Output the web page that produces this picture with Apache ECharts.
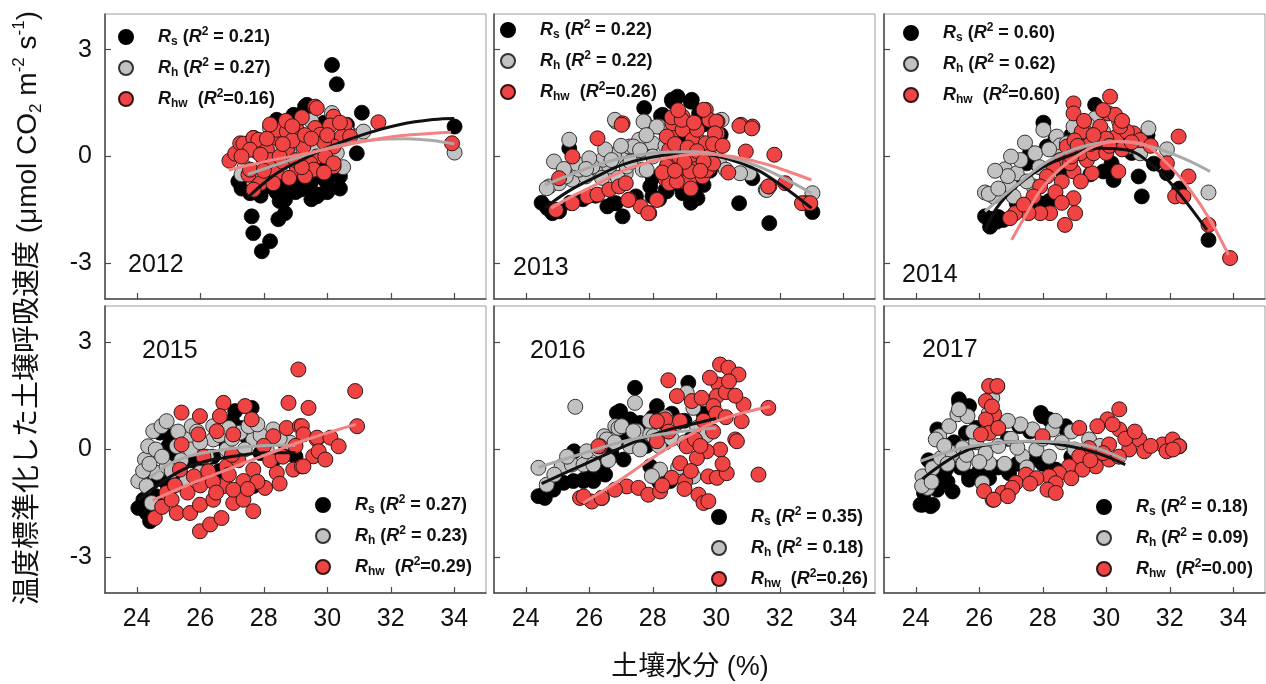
<!DOCTYPE html>
<html>
<head>
<meta charset="utf-8">
<title>土壌呼吸速度と土壌水分</title>
<script src="https://cdn.jsdelivr.net/npm/echarts@6/dist/echarts.min.js"></script>
<style>
  html, body { margin: 0; padding: 0; background: #fff; }
  #chart { width: 1266px; height: 684px; }
</style>
</head>
<body>
<div id="chart"></div>
<script>
// ---- labels and ticks ----
const years = ['2012', '2013', '2014', '2015', '2016', '2017'];
const xTicks = [24, 26, 28, 30, 32, 34];
const yTicks = [-3, 0, 3];
const r2Rs  = ['0.21', '0.22', '0.60', '0.27', '0.35', '0.18'];
const r2Rh  = ['0.27', '0.22', '0.62', '0.23', '0.18', '0.09'];
const r2Rhw = ['0.16', '0.26', '0.60', '0.29', '0.26', '0.00'];

// ---- 2012: [soil moisture %, standardized flux] ----
const rs2012 = [[30.15,2.57],[30.3,2.03],[29.36,1.45],[29.3,1.4],[31.09,1.23],[28.41,1.03],[28.94,1.17],[30.62,0.89],[30.67,0.66],[30.93,0.09],[34.01,0.84],
  [27.68,0.52],[27.5,0.2],[28.0,0.4],[28.6,0.7],[29.0,0.9],[29.6,0.6],[30.2,0.3],[29.9,0.95],
  [27.2,-0.7],[27.3,-0.9],[27.57,-1.03],[27.57,-0.84],[27.8,-0.8],[28.1,-0.84],[28.3,-0.5],[28.52,-0.75],[28.62,-1.12],[28.67,-1.21],[28.8,-0.95],[28.9,-0.6],[29.0,-1.0],[29.15,-0.93],[29.36,-0.56],[29.41,-0.89],[29.67,-1.12],[29.72,-1.07],[29.8,-0.3],[29.94,-0.65],[29.99,-0.75],[30.1,-0.1],[30.4,-0.56],[30.4,-0.9],[28.4,-1.0],[29.5,-0.7],[30.2,-0.5],[29.57,-1.03],[29.88,-0.09],
  [27.4,-0.55],[27.9,-1.1],[28.2,-0.65],[28.7,-0.85],[29.2,-0.7],[29.5,-1.2],[30.0,-1.0],[30.3,-0.3],[28.5,-1.25],
  [28.67,-1.59],[28.46,-1.76],[27.62,-1.68],[27.67,-2.15],[28.2,-2.38],[27.94,-2.66]];
const rh2012 = [[27.68,-0.7],[27.78,0.14],[27.4,-0.3],[27.6,0.35],[28.0,-0.2],[28.3,0.3],[28.5,-0.4],[28.8,0.1],[29.1,0.5],[29.3,-0.2],[29.6,0.3],[29.9,0.7],[30.15,1.22],[30.62,0.70],[31.04,0.61],[31.14,0.70],[34.01,0.11],[30.3,0.1],[30.5,-0.3],[27.3,-0.5],[28.2,0.8],[29.5,1.0],[27.9,-0.55]];
const rhw2012 = [[26.92,-0.12],[27.1,0.08],[27.26,0.37],[27.36,0.36],[27.67,0.52],[27.83,0.28],[27.83,0.47],[27.52,-0.51],[27.57,0.19],[27.57,-0.37],[27.89,-0.75],[27.68,-0.93],[28.46,0.56],[28.41,0.52],[28.41,0.75],[28.73,0.70],[29.04,0.75],[29.62,1.40],[29.67,1.36],[29.62,0.8],[30.2,1.12],[30.56,0.89],[29.25,0.28],[28.73,0.19],[28.1,0.19],[29.67,0.0],[30.2,-0.28],[28.41,-0.47],[29.04,-0.37],[29.46,-0.19],[30.09,0.87],[29.78,0.61],[30.46,0.56],[30.72,0.56],[30.2,0.28],[29.94,0.0],[30.2,-0.19],[29.57,-0.37],[31.61,0.96],[33.93,0.37],
  [28.2,-0.1],[28.6,-0.15],[28.9,0.45],[29.3,0.6],[28.1,0.5],[28.7,1.0],[29.2,1.1],[29.9,0.4],[28.3,-0.75],[28.8,-0.6],[29.3,-0.55],[29.9,-0.45],[28.0,-0.4],[27.3,0.0],[28.5,0.0],[29.0,-0.1],
  [28.2,0.9],[28.9,0.85],[29.5,0.5],[30.0,0.6],[30.4,0.95],[28.6,0.35],[27.9,0.05],[29.2,-0.3]];
const fitRs2012  = [[27.5,-1.15],[28.0,-0.75],[28.5,-0.42],[29.15,-0.12],[30,0.25],[31.25,0.65],[32.3,0.9],[33.35,1.04],[34,1.07]];
const fitRh2012  = [[27.5,-0.5],[28.5,-0.2],[29.5,0.1],[30.5,0.33],[31.5,0.47],[32.5,0.5],[33.3,0.45],[34,0.35]];
const fitRhw2012 = [[26.9,-0.38],[28,-0.15],[29.15,0.05],[30.2,0.25],[31.25,0.44],[32.3,0.58],[33.9,0.68]];

// ---- 2013 ----
const rs2013 = [[28.78,1.68],[28.62,1.54],[27.73,1.36],[29.2,1.54],[28.31,1.17],[29.46,1.22],[28.6,1.59],[29.23,1.59],[28.26,1.14],[30.14,0.61],[25.37,0.23],
  [31.14,-0.61],[30.72,-1.31],[31.67,-1.87],[29.41,-1.17],[28.94,-1.03],[28.41,-0.93],[27.99,-1.12],[27.47,-1.12],[27.05,-1.68],[26.57,-1.4],[26.84,-1.31],[26.76,-1.31],[24.68,-1.45],[24.84,-1.59],[25.05,-1.54],[28.73,-0.75],[29.3,-0.93],[33.03,-1.56],[27.92,-0.84],[28.44,-0.98],[28.97,-0.98],[29.07,-0.75],
  [25.4,-1.3],[25.8,-1.2],[26.2,-1.1],[28.0,-0.6],[28.6,-0.5],[29.6,-0.8],[29.8,-0.4],[28.2,-1.2],[29.2,-1.3],[24.5,-1.3],[28.9,0.5],[29.6,0.9],[29.9,0.2]];
const rh2013 = [[25.37,0.47],[24.89,-0.14],[26.84,0.98],[27.73,0.98],[28.2,0.84],[24.74,-0.84],[25.05,-0.75],[25.47,-0.65],[25.89,-0.56],[26.31,-0.37],[26.63,-0.28],[27.05,-0.09],[27.47,0.09],[27.89,0.19],[27.26,0.28],[27.57,0.47],[27.99,0.37],[26.78,0.05],[26.42,-0.09],[25.68,-0.37],[25.26,-0.56],[26.1,-0.28],[27.68,-0.37],[27.15,-0.47],[30.09,-0.19],[30.3,-0.37],[31.04,-0.47],[31.56,-0.93],[33.03,-1.03],[26.81,1.03],[27.71,0.98],[28.13,0.84],[27.39,0.28],[27.6,0.18],[27.18,-0.28],[27.81,-0.38],[30.17,1.03],[30.12,0.28],[30.75,-0.47],[31.59,-0.94],[24.66,-0.89],
  [25.6,-0.2],[26.0,-0.05],[26.5,0.2],[27.0,0.3],[28.0,0.0],[28.4,0.3],[28.8,0.2],[29.2,-0.1],[29.5,0.4],[28.6,-0.4],[26.9,-0.6],[26.4,-0.6],
  [25.9,-0.35],[26.7,-0.1],[27.3,-0.15],[27.8,0.6],[25.2,-0.35]];
const rhw2013 = [[27.05,0.93],[26.26,0.51],[25.47,0.0],[25.05,-0.61],[24.95,-1.5],[25.47,-1.31],[25.94,-1.12],[26.26,-1.07],[26.63,-0.93],[26.94,-0.84],[27.15,-0.75],[27.26,-1.21],[27.89,-1.59],[27.62,-1.4],[28.41,-0.65],[28.46,-0.23],[28.52,0.19],[28.57,0.56],[28.62,0.93],[28.94,1.12],[28.94,0.75],[29.25,0.47],[29.67,0.37],[29.67,1.31],[29.78,1.03],[30.04,0.98],[30.04,0.65],[29.46,-0.23],[29.78,-0.33],[29.04,-0.37],[28.83,-0.7],[28.52,-0.75],[29.15,-0.65],[29.57,-0.56],[30.78,0.89],[31.14,0.84],[30.93,0.14],[31.83,0.05],[31.67,-0.84],[32.82,-1.31],[28.83,0.0],[29.25,0.05],[29.78,0.0],[27.02,0.89],[28.6,1.1],[28.91,1.03],[29.6,1.31],[30.0,0.98],[29.96,0.65],[30.73,0.86],[31.12,0.79],[28.44,0.56],[28.44,-0.28],[28.76,-0.7],[29.18,-0.42],[29.7,-0.38],[30.38,-0.45],[31.64,-0.84],[32.17,-0.75],[32.7,-1.31],[32.96,-1.31],[27.86,-1.59],[27.23,-1.22],[28.13,-1.22],
  [28.7,0.35],[29.1,0.25],[29.4,0.75],[29.0,-0.15],[29.4,0.15],[28.3,-0.45],[29.9,-0.2],[29.2,-0.9],[29.6,-0.15],[29.9,0.35],
  [28.8,1.3],[29.3,0.95],[28.7,-0.4],[29.5,-0.4],[30.2,0.3]];
const fitRs2013  = [[24.6,-1.45],[25.3,-1.0],[26.1,-0.62],[27.15,-0.2],[28.4,0.04],[29.3,0.1],[30.3,-0.05],[31.3,-0.38],[32.0,-0.78],[32.5,-1.1],[33,-1.45]];
const fitRh2013  = [[24.6,-0.8],[25.3,-0.55],[26.1,-0.28],[27.15,-0.02],[28.4,0.12],[29.3,0.13],[30.3,0.0],[31.1,-0.2],[32,-0.55],[33,-1.03]];
const fitRhw2013 = [[24.8,-1.45],[25.5,-1.1],[26.1,-0.84],[27.15,-0.37],[28.4,-0.05],[29.5,0.07],[30.5,0.0],[31.5,-0.2],[32.2,-0.4],[33.0,-0.66]];

// ---- 2014 ----
const rs2014 = [[26.18,-1.68],[26.34,-1.97],[26.55,-1.83],[26.76,-1.78],[26.4,-1.75],[26.6,-1.7],[28.02,0.95],[28.13,0.28],[27.5,-0.19],[29.65,1.45],[29.91,-0.42],[30.23,-0.66],[30.17,-0.19],[31.02,-0.56],[31.12,-1.12],[31.91,-0.47],[33.22,-2.34],[27.92,-1.31],[27.18,-1.31],[27.6,-1.31],[28.2,-1.25],
  [27.2,-0.6],[27.6,0.1],[28.4,0.5],[28.9,0.6],[29.3,0.4],[29.9,0.5],[30.4,0.3],[30.8,0.1],[26.9,-0.9],[31.5,-0.2],[32.3,-0.9],[28.6,-0.4],[29.5,-0.5],[30.6,0.6],[31.3,0.6]];
const rh2014 = [[26.18,-1.01],[26.45,-1.12],[26.81,-0.36],[26.97,-0.8],[27.44,0.39],[27.76,0.09],[28.02,0.75],[28.44,0.56],[28.55,0.31],[28.97,0.84],[29.65,1.07],[31.33,0.79],[31.91,0.2],[33.22,-1.01],[27.18,-0.47],[27.08,-1.12],[27.71,-0.84],[28.55,0.0],[28.76,0.37],[30.75,0.28],[31.07,0.09],
  [26.3,-1.05],[26.6,-0.9],[26.9,-0.55],[27.3,-0.1],[27.5,-0.7],[27.9,-0.3],[28.2,0.2],[29.2,0.6],[29.4,0.9],[29.9,0.7],[30.2,0.5],[30.4,1.0],[29.0,0.2],[26.5,-0.4],[27.0,0.0]];
const rhw2014 = [[28.97,1.49],[28.97,1.21],[30.12,1.68],[30.07,1.21],[30.28,1.17],[29.81,0.84],[29.39,0.65],[29.23,0.7],[28.76,0.28],[28.55,-0.1],[28.34,-0.28],[28.13,-0.56],[27.92,-0.84],[27.71,-1.12],[28.97,-1.17],[29.02,-1.59],[28.7,-1.92],[28.23,-1.59],[27.92,-1.59],[27.55,-1.59],[27.13,-1.59],[26.97,-1.73],[28.97,-0.42],[29.55,-0.47],[30.38,-0.42],[30.86,0.65],[31.07,0.46],[32.28,0.56],[31.91,-0.19],[32.59,-0.56],[32.17,-1.12],[32.43,-1.12],[33.22,-1.92],[33.9,-2.85],[29.39,-0.1],[29.81,0.28],[30.33,0.56],[30.65,0.7],[29.18,0.09],[29.6,0.09],[30.44,0.84],[29.7,0.46],[28.86,-0.19],
  [29.0,0.45],[29.5,0.35],[30.0,0.1],[30.0,0.5],[29.3,1.0],[30.5,0.2],[28.6,-0.7],[28.4,-1.0],[29.2,-0.7],[27.4,-1.35],[28.6,-1.3],[31.4,0.3],[29.9,1.3],[30.5,1.0],
  [29.1,0.3],[29.6,0.6],[30.1,0.3],[28.9,0.0],[30.8,0.4]];
const fitRs2014  = [[26.18,-2.1],[26.66,-1.31],[27.71,-0.47],[28.76,0.0],[29.81,0.23],[30.65,0.18],[31.38,-0.19],[32.12,-0.84],[33.17,-2.06]];
const fitRh2014  = [[26.18,-1.54],[27.18,-0.8],[28.23,-0.1],[29.28,0.28],[30.33,0.42],[31.38,0.28],[32.43,-0.05],[33.27,-0.42]];
const fitRhw2014 = [[27.02,-2.34],[27.5,-1.59],[28.02,-0.84],[28.76,-0.19],[29.6,0.28],[30.33,0.42],[31.07,0.37],[31.91,-0.19],[32.64,-0.94],[33.27,-1.78],[33.85,-2.76]];

// ---- 2015 ----
const rs2015 = [[24.05,-1.63],[24.31,-1.77],[24.42,-2.0],[24.21,-1.4],[24.73,0.47],[25.05,0.37],[25.2,-0.19],[27.1,1.07],[27.62,1.16],[27.67,-1.02],
  [24.3,-1.5],[24.6,-1.3],[24.9,-0.9],[25.3,-0.6],[25.7,-0.3],[26.0,-0.5],[26.4,-0.2],[26.8,0.2],[27.0,0.8],[27.3,0.6],[27.5,0.3],[27.9,-0.1],[28.3,-0.3],[28.7,0.1],[29.0,-0.2],[24.5,-0.9],[25.5,-0.8],[26.6,-0.6],[25.0,0.1]];
const rh2015 = [[24.05,-0.88],[24.31,-1.02],[24.26,-0.28],[24.36,0.09],[24.52,0.51],[24.78,0.65],[24.94,0.79],[24.63,-0.65],[24.94,-0.47],[25.26,0.09],[25.57,0.28],[25.73,0.65],[26.41,0.28],[26.83,0.0],[27.25,0.47],[27.67,0.28],[28.3,0.56],[25.57,-0.84],[25.99,-0.65],[27.52,0.65],[26.41,0.65],[24.47,-1.49],[28.83,0.19],[28.09,0.0],
  [24.2,-0.6],[24.4,-0.4],[24.6,0.0],[24.8,-0.2],[25.1,-0.6],[25.4,-0.3],[25.7,0.0],[26.0,0.2],[26.2,-0.2],[26.6,0.4],[27.0,0.3],[27.4,0.0],[27.9,0.4],[28.5,0.3],[25.9,0.5],[25.3,0.5],[26.9,0.6],[27.8,0.7]];
const rhw2015 = [[29.09,2.23],[28.78,1.3],[29.41,1.16],[26.73,1.3],[27.41,1.21],[27.62,0.84],[25.41,1.03],[25.99,0.93],[26.62,0.93],[26.52,0.51],[25.94,0.42],[25.41,0.14],[27.04,0.42],[28.3,0.37],[28.72,0.6],[29.14,0.65],[24.57,-1.91],[25.26,-1.77],[25.68,-1.77],[25.99,-1.54],[26.41,-1.4],[27.04,-1.49],[27.36,-1.4],[27.67,-1.72],[25.99,-2.28],[26.31,-2.09],[26.67,-1.91],[26.25,-0.61],[26.83,-0.47],[27.36,-0.88],[27.67,-0.56],[28.04,-1.07],[28.41,-0.65],[28.93,-0.56],[29.2,-0.47],[29.56,-0.19],[29.67,0.28],[25.36,-0.56],[24.94,-1.21],[26.73,-1.02],[27.04,-1.12],
  [30.88,1.63],[29.2,0.65],[29.25,0.42],[29.68,0.33],[30.1,0.33],[30.36,0.09],[30.94,0.65],[29.73,-0.05],[29.94,-0.28],[29.25,-0.47],
  [24.8,-1.6],[25.1,-1.4],[25.6,-1.2],[26.0,-1.0],[26.4,-0.9],[26.9,-0.7],[27.2,-0.3],[27.8,-0.9],[28.2,-0.3],[28.6,-0.2],[25.2,-1.0],[26.1,-0.2],[28.0,0.1],[29.0,0.1],
  [25.8,-0.75],[26.5,-1.2],[27.5,-1.1],[28.5,-0.95],[27.0,-0.15]];
const fitRs2015  = [[24.05,-1.4],[24.63,-1.02],[25.26,-0.65],[25.99,-0.37],[27.04,-0.19],[28.09,-0.09],[29.0,-0.09]];
const fitRh2015  = [[24.4,-0.8],[25,-0.42],[25.6,-0.2],[26.4,-0.05],[27.3,0.06],[28.3,0.12],[29,0.12]];
const fitRhw2015 = [[24.5,-1.42],[25.5,-1.03],[26.5,-0.68],[27.5,-0.34],[28.5,0.0],[29.5,0.32],[30.9,0.7]];

// ---- 2016 ----
const rs2016 = [[24.4,-1.3],[24.61,-1.21],[24.87,-1.12],[25.19,-0.93],[25.5,-0.88],[25.82,-0.88],[26.13,-0.88],[25.52,-0.05],[26.45,-0.65],[26.87,1.02],[27.44,1.72],[26.97,1.07],[28.13,1.21],[27.29,0.84],[27.6,0.74],[29.12,1.86],[26.34,-0.38],[26.5,-0.7],[27.08,-0.28],[27.92,-0.47],[26.03,-0.52],[25.82,-0.84],[28.55,-0.88],[28.86,-0.47],[29.49,0.65],[28.44,0.65],
  [27.0,0.3],[27.5,0.4],[28.0,0.9],[28.6,1.0],[29.0,0.8],[29.6,1.0],[27.8,0.1],[28.4,0.2],[26.7,-0.1],[29.2,0.3],[28.2,-0.9],[24.6,-1.35]];
const rh2016 = [[25.56,1.19],[24.4,-0.51],[24.66,-0.98],[25.13,-0.47],[25.45,-0.42],[25.82,-0.42],[26.13,-0.42],[26.47,0.37],[26.82,0.65],[27.44,1.3],[29.07,1.58],[26.92,0.6],[27.5,0.51],[27.92,0.42],[28.44,0.46],[28.76,0.74],[25.92,-0.05],[26.55,0.28],[27.29,0.09],[28.02,-0.75],[28.23,-0.56],[29.28,-0.75],[27.02,0.65],[27.39,0.51],[28.02,0.37],[29.28,1.16],[27.97,-0.74],
  [26.3,0.0],[26.8,0.2],[27.6,0.0],[28.2,0.1],[28.6,0.3],[29.0,0.2],[29.4,0.6],[29.7,0.4],[27.9,0.8],[28.4,0.9],[24.9,-0.7],[25.3,-0.2],[28.8,-0.5],[26.6,-0.3]];
const rhw2016 = [[25.71,-1.35],[26.08,-1.45],[26.4,-1.35],[26.34,0.09],[28.49,1.93],[30.12,2.37],[30.38,2.28],[30.7,2.09],[30.07,1.81],[30.02,1.49],[28.76,1.49],[29.23,1.35],[29.54,1.44],[29.91,1.21],[30.86,1.25],[31.64,1.16],[30.8,0.79],[30.6,0.28],[30.12,0.0],[29.7,-0.05],[29.39,-0.24],[29.07,0.09],[29.33,0.28],[28.86,0.79],[28.39,0.84],[28.13,0.79],[28.86,-0.38],[28.6,-0.79],[29.02,-0.89],[29.75,-0.75],[30.02,-0.79],[30.33,-0.66],[31.33,-0.7],[29.44,-1.26],[29.6,-1.49],[27.18,-1.03],[27.55,-1.07],[27.86,-1.26],[28.23,-1.17],[26.81,-1.12],[26.39,-1.35],[25.82,-1.31],[26.29,0.09],[28.13,0.23],[30.65,0.23],[29.75,-1.44],
  [30.3,1.6],[30.6,1.5],[30.0,1.0],[29.6,0.8],[30.3,0.9],[29.9,0.5],[29.5,0.1],[30.2,-0.4],[29.2,-0.6],[28.5,0.5],[29.8,2.0],[30.4,1.9],[28.3,-1.0],[29.0,-1.1]];
const fitRs2016  = [[24.5,-0.95],[25.7,-0.47],[27.1,0.09],[28.3,0.5],[29.4,0.74],[30,0.87]];
const fitRh2016  = [[24.4,-0.5],[25.7,-0.14],[27.3,0.27],[28.9,0.5],[30,0.6]];
const fitRhw2016 = [[25.8,-1.5],[26.8,-0.95],[27.8,-0.35],[28.9,0.27],[30.1,0.82],[31.7,1.2]];

// ---- 2017 ----
const rs2017 = [[24.21,-1.54],[24.53,-1.54],[24.26,-1.21],[24.68,-1.12],[25.16,-1.17],[24.84,-0.84],[25.37,1.3],[25.68,1.21],[24.68,0.56],[25.58,0.46],[26.42,0.79],[27.26,0.65],[27.94,1.02],[28.2,0.84],[28.73,0.56],[25.68,-0.75],[26.31,-0.8],[26.94,-0.66],[27.78,-0.28],[28.41,-0.56],[24.95,-0.56],[24.15,-1.54],[24.47,-1.58],[25.36,1.4],[24.73,0.47],[27.99,0.93],[28.72,0.65],[24.84,-0.88],[25.68,-0.84],
  [24.4,-1.0],[25.0,-0.9],[25.4,-0.5],[26.0,-0.6],[26.6,-0.5],[27.2,-0.4],[27.5,-0.7],[28.0,-0.4],[28.9,-0.2],[25.9,0.6],[26.9,0.3],[27.6,0.5],[24.4,-0.3],[25.2,0.2]];
const rh2017 = [[24.21,-0.75],[24.37,-1.07],[24.53,-0.52],[24.79,-0.24],[25.16,-0.1],[25.47,0.04],[24.74,0.37],[25.05,0.65],[25.31,0.98],[25.63,0.93],[26.31,0.65],[27.68,0.56],[28.31,0.56],[29.46,0.28],[26.31,-0.38],[27.36,-0.19],[26.1,-0.93],[24.63,0.28],[25.36,1.12],[26.41,1.44],[24.2,-1.02],
  [24.5,-0.9],[25.0,-0.4],[25.5,-0.4],[25.9,0.2],[26.2,-0.1],[26.6,0.1],[27.0,0.3],[27.3,0.7],[27.8,0.0],[28.0,0.3],[28.6,0.2],[28.9,0.5],[29.2,-0.1],[29.8,0.1],[26.8,-0.4],[27.5,-0.5],[25.8,0.5],[26.9,0.8],[28.4,0.8],[26.55,1.75],[26.3,1.0],
  [24.9,0.1],[25.6,-0.15],[26.0,-0.35],[27.2,0.05],[28.2,-0.2],[29.0,0.0]];
const rhw2017 = [[26.31,1.77],[26.57,1.77],[26.21,1.35],[26.47,0.98],[26.21,0.84],[26.31,0.46],[26.05,0.42],[30.41,1.12],[30.04,0.84],[29.72,0.65],[30.41,0.56],[29.15,0.6],[27.99,0.37],[30.09,0.14],[30.72,0.0],[31.04,0.28],[31.2,-0.05],[31.77,0.14],[32.09,0.28],[32.3,0.09],[29.46,0.04],[29.15,-0.19],[28.83,-0.47],[28.52,-0.66],[28.2,-0.75],[27.47,-0.7],[27.15,-0.93],[26.73,-1.21],[26.42,-1.4],[29.67,-0.47],[30.09,-0.28],[29.25,-0.56],[28.41,-0.94],[28.15,-1.12],[26.15,-1.16],[26.46,-1.4],[27.04,-1.07],[28.41,-1.21],[32.29,0.09],
  [26.4,1.2],[26.6,0.6],[30.2,0.7],[30.6,0.3],[30.9,0.5],[31.4,0.1],[31.9,-0.05],[32.1,0.0],[29.9,-0.1],[30.4,-0.2],[27.8,-0.8],[28.9,-0.8],[29.5,-0.3],[26.9,-1.3],[27.6,-0.95]];
const fitRs2017 = [[24.21,-0.82],[25.37,-0.12],[26.42,0.16],[27.47,0.22],[28.52,0.14],[29.57,-0.06],[30.6,-0.42]];
const fitRh2017 = [[24.16,-0.32],[25.37,0.02],[26.42,0.17],[27.47,0.23],[28.52,0.21],[29.57,0.07],[30.62,-0.3]];

// ---- panel table ----
const panels = [
  { rs: rs2012, rh: rh2012, rhw: rhw2012, fitRs: fitRs2012, fitRh: fitRh2012, fitRhw: fitRhw2012 },
  { rs: rs2013, rh: rh2013, rhw: rhw2013, fitRs: fitRs2013, fitRh: fitRh2013, fitRhw: fitRhw2013 },
  { rs: rs2014, rh: rh2014, rhw: rhw2014, fitRs: fitRs2014, fitRh: fitRh2014, fitRhw: fitRhw2014 },
  { rs: rs2015, rh: rh2015, rhw: rhw2015, fitRs: fitRs2015, fitRh: fitRh2015, fitRhw: fitRhw2015 },
  { rs: rs2016, rh: rh2016, rhw: rhw2016, fitRs: fitRs2016, fitRh: fitRh2016, fitRhw: fitRhw2016 },
  { rs: rs2017, rh: rh2017, rhw: rhw2017, fitRs: fitRs2017, fitRh: fitRh2017, fitRhw: null }
];

// ---- layout ----
const colLeft = [105, 494, 884];
const rowTop = [14, 306];
const rowH = [285, 287];
const panelW = 381;
const legendPos = [[118, 26], [500, 19], [903, 22], [315, 494], [711, 506], [1096, 496]];
const yearPos = [[128, 265], [513, 268], [902, 275], [142, 351], [530, 351], [922, 350]];

const FONT = '"Liberation Sans", Arial, "Noto Sans CJK JP", sans-serif';
const AXIS_COLOR = '#4a4a4a';

const markStyle = {
  rs:  { color: '#000000', borderColor: '#000000', borderWidth: 0.8, opacity: 1 },
  rh:  { color: '#c2c2c2', borderColor: '#333333', borderWidth: 1, opacity: 1 },
  rhw: { color: '#f04444', borderColor: '#331414', borderWidth: 1, opacity: 1 }
};
const fitColor = { rs: '#111111', rh: '#a9a9a9', rhw: '#f38282' };

function legendText(name) {
  const parts = name.split('_');
  const i = Number(parts[1]);
  if (parts[0] === 'Rs') return '{R0|R}{sub|s}{t| (}{R|R}{sup|2}{t| = ' + r2Rs[i] + ')}';
  if (parts[0] === 'Rh') return '{R0|R}{sub|h}{t| (}{R|R}{sup|2}{t| = ' + r2Rh[i] + ')}';
  return '{R0|R}{sub|hw}{t|  (}{R|R}{sup|2}{t|=' + r2Rhw[i] + ')}';
}

const legendRich = {
  t:   { fontFamily: FONT, fontSize: 18, fontWeight: 'bold', color: '#111', lineHeight: 22 },
  R:   { fontFamily: FONT, fontSize: 18, fontWeight: 'bold', fontStyle: 'italic', color: '#111', lineHeight: 22 },
  R0:  { fontFamily: FONT, fontSize: 18, fontWeight: 'bold', fontStyle: 'italic', color: '#111', lineHeight: 22, padding: [0, 0, 0, 20] },
  sub: { fontFamily: FONT, fontSize: 12, fontWeight: 'bold', color: '#111', lineHeight: 11, verticalAlign: 'bottom' },
  sup: { fontFamily: FONT, fontSize: 12, fontWeight: 'bold', color: '#111', lineHeight: 12, verticalAlign: 'top' }
};

const grid = [], xAxis = [], yAxis = [], series = [], legend = [], graphic = [];

panels.forEach(function (p, i) {
  const col = i % 3, row = Math.floor(i / 3);
  grid.push({
    left: colLeft[col], top: rowTop[row], width: panelW, height: rowH[row],
    show: true, borderColor: '#9c9c9c', borderWidth: 1, backgroundColor: '#fff'
  });
  xAxis.push({
    type: 'value', gridIndex: i, min: 23, max: 35,
    axisLine: { show: true, onZero: false, lineStyle: { color: AXIS_COLOR, width: 1.5 } },
    axisTick: { show: true, inside: true, length: 6, customValues: xTicks, lineStyle: { color: AXIS_COLOR, width: 1.2 } },
    axisLabel: { show: row === 1, customValues: xTicks, margin: 14, fontSize: 25, color: '#111', fontFamily: FONT },
    splitLine: { show: false }
  });
  yAxis.push({
    type: 'value', gridIndex: i, min: -4, max: 4,
    axisLine: { show: true, onZero: false, lineStyle: { color: AXIS_COLOR, width: 1.5 } },
    axisTick: { show: true, inside: true, length: 6, customValues: yTicks, lineStyle: { color: AXIS_COLOR, width: 1.2 } },
    axisLabel: { show: col === 0, customValues: yTicks, margin: 13, fontSize: 25, color: '#111', fontFamily: FONT },
    splitLine: { show: false }
  });

  ['rs', 'rh', 'rhw'].forEach(function (k) {
    series.push({
      type: 'scatter', name: (k === 'rs' ? 'Rs' : k === 'rh' ? 'Rh' : 'Rhw') + '_' + i,
      xAxisIndex: i, yAxisIndex: i, data: p[k], symbol: 'circle', symbolSize: 15,
      itemStyle: markStyle[k], z: 2, silent: true, emphasis: { disabled: true }
    });
  });
  [['rs', p.fitRs], ['rh', p.fitRh], ['rhw', p.fitRhw]].forEach(function (f) {
    if (!f[1]) return;
    series.push({
      type: 'line', xAxisIndex: i, yAxisIndex: i, data: f[1], smooth: 0.4,
      showSymbol: false, symbol: 'none', lineStyle: { color: fitColor[f[0]], width: 3 },
      z: 3, silent: true, emphasis: { disabled: true }
    });
  });

  legend.push({
    data: ['Rs_' + i, 'Rh_' + i, 'Rhw_' + i],
    orient: 'vertical', left: legendPos[i][0], top: legendPos[i][1],
    itemWidth: 14, itemHeight: 14, itemGap: 9, padding: 0,
    selectedMode: false, icon: 'circle',
    formatter: legendText,
    textStyle: { rich: legendRich }
  });

  graphic.push({
    type: 'text', x: yearPos[i][0], y: yearPos[i][1], silent: true,
    style: { text: years[i], fontSize: 25, fontFamily: FONT, fill: '#111',
             textAlign: 'left', textVerticalAlign: 'middle', align: 'left', verticalAlign: 'middle' }
  });
});

// x axis title
graphic.push({
  type: 'text', x: 690, y: 668, silent: true,
  style: { text: '土壤水分 (%)', fontSize: 27, fontFamily: FONT, fill: '#111',
           textAlign: 'center', textVerticalAlign: 'middle', align: 'center', verticalAlign: 'middle' }
});

// y axis title, rotated, with sub/superscripts
graphic.push({
  type: 'text', x: 28, y: 308, rotation: Math.PI / 2, silent: true,
  style: {
    text: '{a|温度標準化した土壌呼吸速度 (μmol CO}{sub|2}{a| m}{sup|-2}{a| s}{sup|-1}{a|)}',
    textAlign: 'center', textVerticalAlign: 'middle', align: 'center', verticalAlign: 'middle',
    rich: {
      a:   { fontFamily: FONT, fontSize: 28, fill: '#111', color: '#111', lineHeight: 34 },
      sub: { fontFamily: FONT, fontSize: 17, fill: '#111', color: '#111', lineHeight: 17, verticalAlign: 'bottom' },
      sup: { fontFamily: FONT, fontSize: 17, fill: '#111', color: '#111', lineHeight: 17, verticalAlign: 'top' }
    }
  }
});

const chart = echarts.init(document.getElementById('chart'), null, { renderer: 'canvas' });
chart.setOption({
  backgroundColor: '#ffffff',
  animation: false,
  tooltip: { show: false },
  grid: grid, xAxis: xAxis, yAxis: yAxis,
  legend: legend, series: series, graphic: graphic
});
</script>
</body>
</html>
